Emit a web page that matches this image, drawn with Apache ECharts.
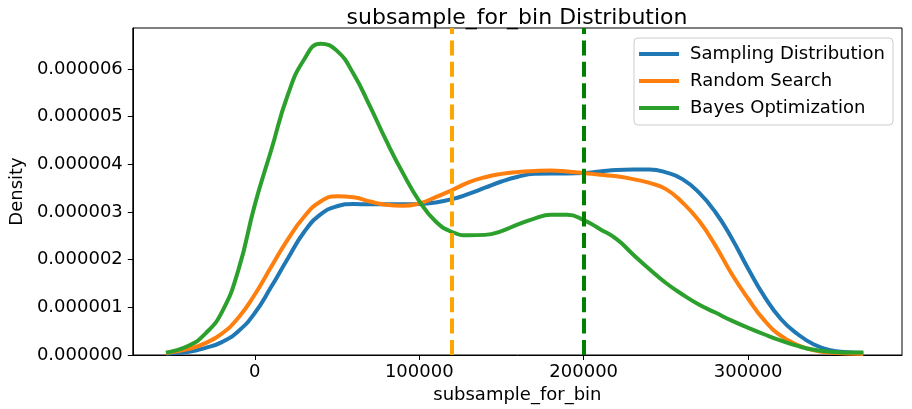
<!DOCTYPE html>
<html>
<head>
<meta charset="utf-8">
<script src="https://cdn.jsdelivr.net/npm/echarts@6/dist/echarts.min.js"></script>
<style>html,body{margin:0;padding:0;background:#fff}#c{width:912px;height:409px}</style>
</head>
<body>
<div id="c"></div>
<script>
// x grid (subsample_for_bin)
const xs = [-54000,-40000,-30000,-20000,-10000,0,10000,20000,30000,40000,50000,60000,70000,80000,90000,100000,110000,120000,130000,140000,150000,160000,170000,180000,190000,200000,210000,220000,230000,240000,250000,260000,270000,280000,290000,300000,310000,320000,330000,340000,350000,360000,370000];
// densities in units of 1e-6
const samplingDist = [0.03,0.07,0.15,0.27,0.50,0.88,1.43,2.02,2.58,2.95,3.12,3.17,3.16,3.16,3.16,3.17,3.20,3.27,3.38,3.51,3.64,3.74,3.80,3.81,3.81,3.82,3.85,3.88,3.89,3.89,3.83,3.69,3.41,3.00,2.45,1.81,1.22,0.75,0.44,0.22,0.10,0.06,0.04];
const randomSearch = [0.04,0.13,0.25,0.45,0.78,1.27,1.85,2.42,2.90,3.22,3.33,3.31,3.22,3.15,3.13,3.18,3.31,3.46,3.62,3.73,3.80,3.84,3.86,3.87,3.85,3.82,3.78,3.75,3.69,3.61,3.48,3.20,2.82,2.30,1.70,1.18,0.72,0.40,0.21,0.10,0.05,0.03,0.02];
const bayesOpt = [0.05,0.20,0.45,0.90,1.78,3.15,4.30,5.45,6.20,6.53,6.38,5.90,5.22,4.49,3.82,3.23,2.80,2.58,2.51,2.52,2.60,2.74,2.86,2.94,2.94,2.83,2.64,2.43,2.11,1.80,1.51,1.27,1.06,0.89,0.72,0.57,0.43,0.30,0.19,0.11,0.07,0.05,0.05];
const seriesNames = ['Sampling Distribution','Random Search','Bayes Optimization'];
const xTicks = [0,100000,200000,300000];
const vlineRandom = 120000;
const vlineBayes = 200000;

const colors = ['#1f77b4','#ff7f0e','#2ca02c'];
const font = 'DejaVu Sans';
const chart = echarts.init(document.getElementById('c'));
function mk(name, vals, color, extra) {
  return Object.assign({
    name, type: 'line', smooth: 0.5, showSymbol: false, symbol: 'none',
    data: xs.map((x, i) => [x, vals[i]]),
    lineStyle: { color, width: 4 }, itemStyle: { color }, z: 3
  }, extra || {});
}
chart.setOption({
  animation: false,
  title: { text: 'subsample_for_bin Distribution', left: 512, textAlign: 'center', top: 2,
    textStyle: { fontFamily: font, fontSize: 22, fontWeight: 'normal', color: '#000' } },
  grid: { left: 122, right: 10, top: 28, bottom: 54, show: true, borderColor: '#000', borderWidth: 1, backgroundColor: 'transparent' },
  legend: {
    orient: 'vertical', right: 19, top: 38, data: seriesNames,
    icon: 'rect', itemWidth: 40, itemHeight: 4, itemGap: 9,
    backgroundColor: '#fff', borderColor: '#cccccc', borderWidth: 1, borderRadius: 4,
    padding: [7, 8, 8, 5],
    textStyle: { fontFamily: font, fontSize: 18, color: '#000', padding: [0,0,0,6] }
  },
  xAxis: {
    type: 'value', min: -74180, max: 393530,
    name: 'subsample_for_bin', nameLocation: 'middle', nameGap: 28,
    nameTextStyle: { fontFamily: font, fontSize: 18, color: '#000' },
    axisLine: { show: true, onZero: false, lineStyle: { color: '#000', width: 1 } },
    axisTick: { show: true, length: 5, customValues: xTicks, lineStyle: { color: '#000' } },
    axisLabel: { customValues: xTicks, margin: 8, fontFamily: font, fontSize: 18, color: '#000',
      formatter: v => String(v) },
    splitLine: { show: false }
  },
  yAxis: {
    type: 'value', min: 0, max: 6.86, interval: 1,
    name: 'Density', nameLocation: 'middle', nameGap: 96,
    nameTextStyle: { fontFamily: font, fontSize: 18, color: '#000' },
    axisLine: { show: true, onZero: false, lineStyle: { color: '#000', width: 1 } },
    axisTick: { show: true, length: 5, lineStyle: { color: '#000' } },
    axisLabel: { margin: 10, fontFamily: font, fontSize: 18, color: '#000', showMaxLabel: false,
      formatter: v => (v * 1e-6).toFixed(6) },
    splitLine: { show: false }
  },
  series: [
    mk(seriesNames[0], samplingDist, colors[0]),
    mk(seriesNames[1], randomSearch, colors[1], {
      markLine: { silent: true, symbol: 'none', label: { show: false },
        lineStyle: { color: '#FFA500', width: 4, type: [15, 6.4] },
        data: [{ xAxis: vlineRandom }] }
    }),
    mk(seriesNames[2], bayesOpt, colors[2], {
      markLine: { silent: true, symbol: 'none', label: { show: false },
        lineStyle: { color: '#008000', width: 4, type: [15, 6.4] },
        data: [{ xAxis: vlineBayes }] }
    })
  ]
});
</script>
</body>
</html>
